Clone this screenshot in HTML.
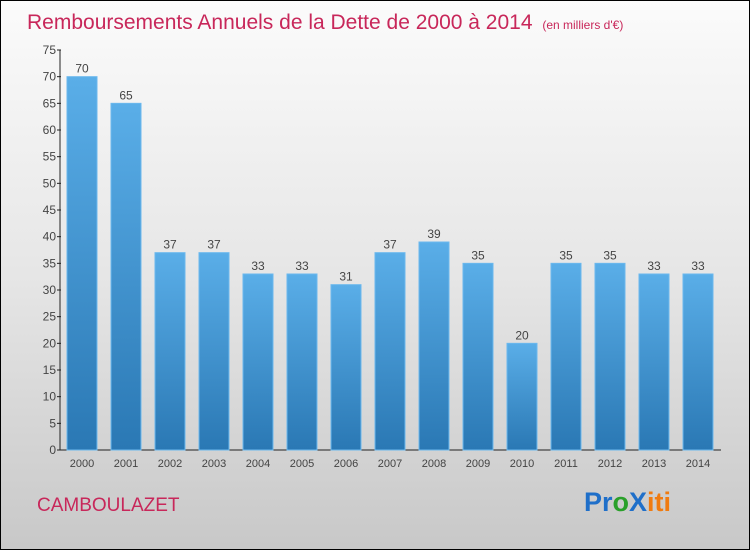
<!DOCTYPE html>
<html><head><meta charset="utf-8"><style>
body{margin:0;}
#wrap{width:748px;height:548px;border:1px solid #000;background:linear-gradient(#fbfbfb,#e6e6e6 50%,#c8c8c8);position:relative;overflow:hidden;font-family:"Liberation Sans",sans-serif;}
</style></head><body>
<div id="wrap">
<svg id="chart" width="748" height="548">
<defs><linearGradient id="bg" x1="0" y1="0" x2="0" y2="1"><stop offset="0" stop-color="#5aaee8"/><stop offset="1" stop-color="#2a78b4"/></linearGradient></defs>
<text x="26" y="28" font-size="21" fill="#c8275a">Remboursements Annuels de la Dette de 2000 à 2014 <tspan font-size="12" dx="4">(en milliers d'€)</tspan></text>
<text x="36" y="510" font-size="19" fill="#c8275a">CAMBOULAZET</text>
<text x="583" y="510" font-size="27" font-weight="bold"><tspan fill="#1f6fc9">Pr</tspan><tspan fill="#2aa02a">o</tspan><tspan fill="#1f6fc9">X</tspan><tspan fill="#f07b10">iti</tspan></text>
<g id="plot"></g>
</svg>
</div>
<script>
const categories=["2000","2001","2002","2003","2004","2005","2006","2007","2008","2009","2010","2011","2012","2013","2014"];
const values=[70,65,37,37,33,33,31,37,39,35,20,35,35,33,33];
const yTicks=[0,5,10,15,20,25,30,35,40,45,50,55,60,65,70,75];
const NS="http://www.w3.org/2000/svg";
const g=document.getElementById('plot');
const y=v=>449-v*(400/75);
const x=i=>81+i*44;
function el(t,a,txt){const e=document.createElementNS(NS,t);for(const k in a)e.setAttribute(k,a[k]);if(txt!==undefined)e.textContent=txt;g.appendChild(e);return e;}
let ax=el('line',{x1:59,y1:y(75),x2:59,y2:449,stroke:'#222','stroke-width':1});


let bx=el('line',{x1:59,y1:449,x2:720,y2:449,stroke:'#222','stroke-width':1});


yTicks.forEach(v=>{
 const t=el('line',{x1:56,x2:60,y1:y(v),y2:y(v),stroke:'#222'});
 
 
 const l=el('text',{x:55,y:y(v)+4,'font-size':12,fill:'#444','text-anchor':'end'},String(v));
 
 
});
categories.forEach((c,i)=>{
 const v=values[i];
 const r=el('rect',{x:x(i)-15,y:y(v),width:30,height:449-y(v),fill:'url(#bg)',stroke:'#6bb8ee','stroke-width':1});
 
 
 const vl=el('text',{x:x(i),y:y(v)-4,'font-size':12,fill:'#444','text-anchor':'middle'},String(v));
 
 
 const xl=el('text',{x:x(i),y:466,'font-size':11,fill:'#444','text-anchor':'middle'},c);
 
 
});
</script>
</body></html>
